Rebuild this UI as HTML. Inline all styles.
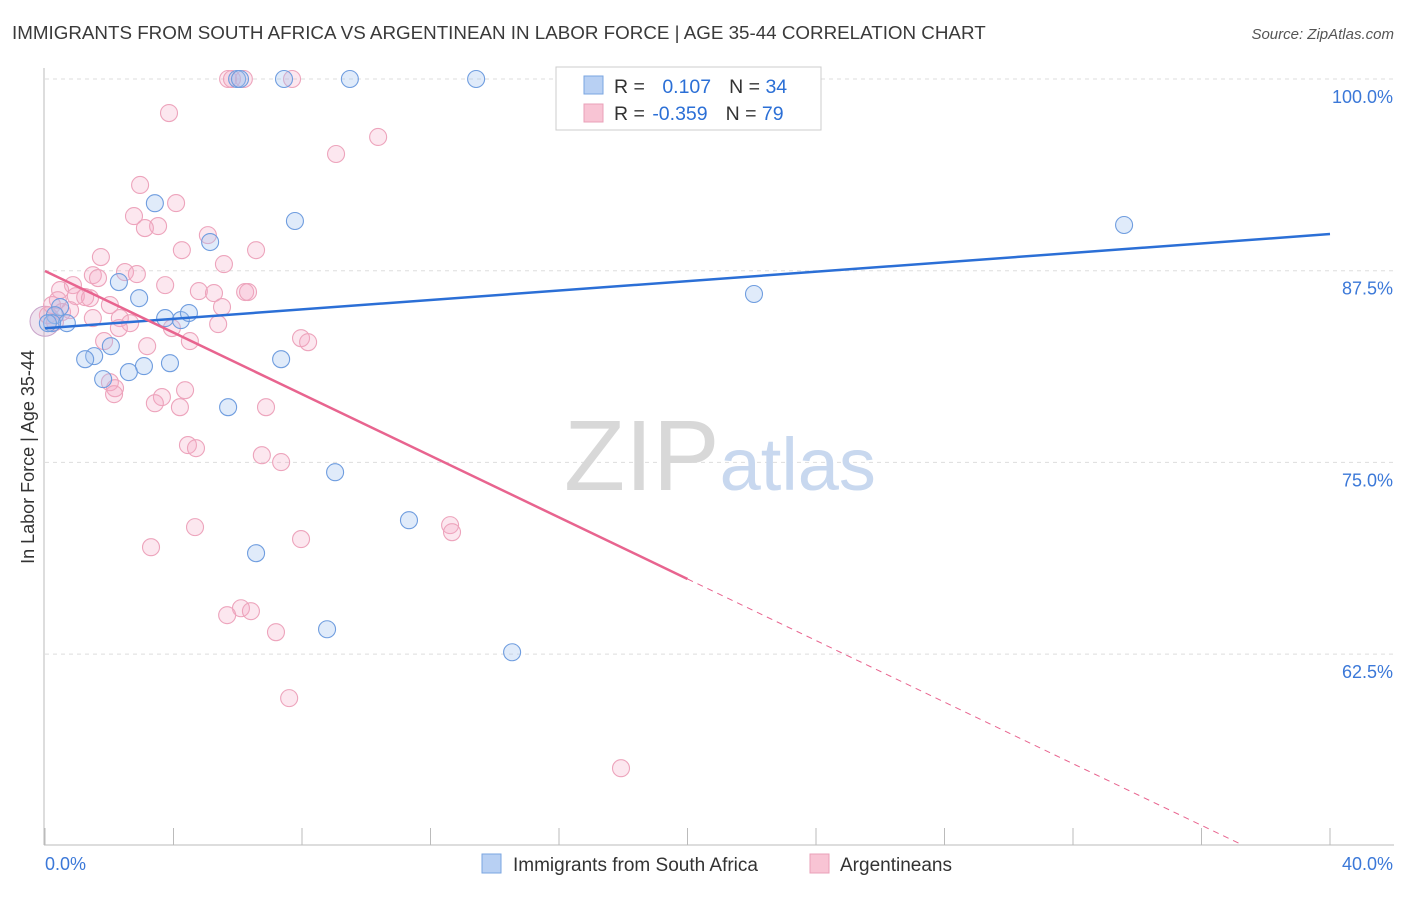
<!DOCTYPE html>
<html><head><meta charset="utf-8"><style>
body{margin:0;background:#fff;font-family:"Liberation Sans",sans-serif}
svg text{font-family:"Liberation Sans",sans-serif}
</style></head><body>
<svg id="chart" width="1406" height="892" viewBox="0 0 1406 892">
<text x="12" y="39" font-size="18.8" fill="#3a3a3a">IMMIGRANTS FROM SOUTH AFRICA VS ARGENTINEAN IN LABOR FORCE | AGE 35-44 CORRELATION CHART</text>
<text x="1394" y="39" font-size="15" fill="#555" text-anchor="end" font-style="italic">Source: ZipAtlas.com</text>
<g id="grid"></g>
<text x="720" y="490" text-anchor="middle" font-size="100" fill="#d8d8d8" font-family="Liberation Serif,serif">ZIP<tspan fill="#c8d8ef" font-family="Liberation Sans,sans-serif" font-size="74">atlas</tspan></text>
<g id="marks"></g>
<text transform="translate(34,457) rotate(-90)" text-anchor="middle" font-size="18" fill="#333">In Labor Force | Age 35-44</text>
<g>
<rect x="556" y="67" width="265" height="63" fill="#fff" stroke="#ccc"/>
<rect x="584" y="76" width="19" height="18" fill="#b8d0f3" stroke="#7aa6e0"/>
<rect x="584" y="104" width="19" height="18" fill="#f8c4d4" stroke="#eaa0b8"/>
<text x="614" y="93" font-size="19.5" fill="#333">R = <tspan fill="#2b6fd6" dx="12">0.107</tspan><tspan dx="18" fill="#333">N = </tspan><tspan fill="#2b6fd6">34</tspan></text>
<text x="614" y="120" font-size="19.5" fill="#333">R = <tspan fill="#2b6fd6" dx="2">-0.359</tspan><tspan dx="18" fill="#333">N = </tspan><tspan fill="#2b6fd6">79</tspan></text>
</g>
<g>
<rect x="482" y="854" width="19" height="19" fill="#b8d0f3" stroke="#7aa6e0"/>
<text x="513" y="871" font-size="19" fill="#333">Immigrants from South Africa</text>
<rect x="810" y="854" width="19" height="19" fill="#f8c4d4" stroke="#eaa0b8"/>
<text x="840" y="871" font-size="19" fill="#333">Argentineans</text>
</g>
</svg>
<script>
const xTicks=[0,4,8,12,16,20,24,28,32,36,40];
const yTicks=[100,87.5,75,62.5];
const yTickLabels=["100.0%","87.5%","75.0%","62.5%"];
const blueX=[5.98,6.07,7.44,9.49,13.42,3.42,7.78,5.14,33.59,2.30,2.93,22.07,0.47,0.31,3.74,4.23,4.48,0.68,0.22,2.05,1.53,1.25,3.08,3.89,7.35,2.61,1.81,5.70,9.03,11.33,6.57,8.78,14.54,0.09];
const blueY=[100,100,100,100,100,91.9,90.74,89.37,90.48,86.76,85.71,85.98,85.13,84.6,84.41,84.28,84.74,84.08,84.08,82.58,81.93,81.73,81.28,81.47,81.73,80.89,80.43,78.6,74.36,71.23,69.08,64.12,62.62,84.08];
const pinkX=[5.70,5.82,6.19,7.69,3.86,10.37,9.06,2.96,4.08,2.77,3.52,3.11,5.07,4.26,6.57,1.74,5.57,1.49,2.49,2.86,1.65,3.74,0.87,0.47,4.79,5.26,6.23,6.32,0.96,1.25,1.40,2.02,5.51,1.49,2.33,2.65,5.39,3.95,2.30,1.84,4.51,7.97,8.19,3.18,2.02,2.18,2.15,4.36,3.64,3.42,4.20,6.88,4.45,4.70,6.75,7.35,4.67,7.97,12.61,12.67,3.30,6.10,6.41,5.67,7.19,7.60,17.93,0.22,0.40,0.09,0.53,0.78,0.31];
const pinkY=[100,100,100,100,97.78,96.22,95.11,93.09,91.91,91.06,90.41,90.28,89.82,88.84,88.84,88.39,87.93,87.21,87.41,87.28,87.02,86.56,86.56,86.24,86.17,86.04,86.11,86.11,85.84,85.78,85.71,85.26,85.13,84.41,84.41,84.08,84.02,83.76,83.76,82.91,82.91,83.1,82.84,82.58,80.23,79.84,79.45,79.71,79.26,78.86,78.6,78.6,76.13,75.93,75.47,75.02,70.78,70.0,70.91,70.45,69.47,65.49,65.3,65.04,63.93,59.63,55.06,85.26,85.58,84.6,84.8,84.93,84.15];
const blueTrend=[83.75,0.1535];
const pinkTrend=[87.48,-1.004];
const pinkSolidEnd=20;

const NS="http://www.w3.org/2000/svg";
const X=v=>45+v/40*1285;
const Y=v=>79+(100-v)*191.7/12.5;
function mk(t,a,p){const e=document.createElementNS(NS,t);for(const k in a)e.setAttribute(k,a[k]);p.appendChild(e);return e;}
const grid=document.getElementById('grid'),marks=document.getElementById('marks');
yTicks.forEach((v,i)=>{
 const l=mk('line',{x1:45,x2:1394,y1:Y(v),y2:Y(v),stroke:'#ddd','stroke-dasharray':'4,4'},grid);
 
 
 const t=mk('text',{x:1393,y:Y(v)+24,'text-anchor':'end','font-size':18,fill:'#3b78d8'},grid);
 t.textContent=yTickLabels[i];
 
 
});
const ax=mk('line',{x1:44,x2:44,y1:68,y2:845,stroke:'#bbb'},grid);


const bx=mk('line',{x1:44,x2:1394,y1:845,y2:845,stroke:'#bbb'},grid);


xTicks.forEach(v=>{
 const l=mk('line',{x1:X(v),x2:X(v),y1:828,y2:845,stroke:'#bbb'},grid);
 
 
});
[[0,'0.0%','start',45],[40,'40.0%','end',1393]].forEach(d=>{
 const t=mk('text',{x:d[3],y:870,'text-anchor':d[2],'font-size':18,fill:'#3b78d8'},grid);
 t.textContent=d[1];
 
 
});
const big=mk('circle',{cx:X(0),cy:Y(84.2),r:15,fill:'rgba(200,160,200,0.3)',stroke:'#c9a3c9'},marks);


pinkX.forEach((x,i)=>{
 const c=mk('circle',{cx:X(x),cy:Y(pinkY[i]),r:8.5,fill:'rgba(246,170,196,0.28)',stroke:'#eda4bc','stroke-width':1.1},marks);
 
 
});
blueX.forEach((x,i)=>{
 const c=mk('circle',{cx:X(x),cy:Y(blueY[i]),r:8.5,fill:'rgba(160,195,240,0.33)',stroke:'#6f9ddf','stroke-width':1.1},marks);
 
 
});
const bl=mk('line',{x1:X(0),y1:Y(blueTrend[0]),x2:X(40),y2:Y(blueTrend[0]+40*blueTrend[1]),stroke:'#2b6fd6','stroke-width':2.5},marks);


const pl=mk('line',{x1:X(0),y1:Y(pinkTrend[0]),x2:X(pinkSolidEnd),y2:Y(pinkTrend[0]+pinkSolidEnd*pinkTrend[1]),stroke:'#e8648f','stroke-width':2.5},marks);


const xe=(pinkTrend[0]-50.05)/-pinkTrend[1];
const pd=mk('line',{x1:X(pinkSolidEnd),y1:Y(pinkTrend[0]+pinkSolidEnd*pinkTrend[1]),x2:X(xe),y2:Y(pinkTrend[0]+xe*pinkTrend[1]),stroke:'#e8648f','stroke-width':1,'stroke-dasharray':'6,5'},marks);


</script>
</body></html>
